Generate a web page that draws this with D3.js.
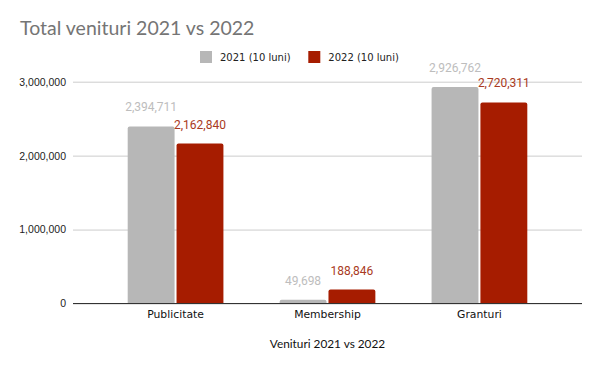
<!DOCTYPE html>
<html><head><meta charset="utf-8">
<script src="https://cdn.jsdelivr.net/npm/d3@7"></script>
<style>html,body{margin:0;padding:0;background:#fff;}</style>
</head><body>
<script>
const categories = ["Publicitate", "Membership", "Granturi"];
const seriesNames = ["2021 (10 luni)", "2022 (10 luni)"];
const values2021 = [2394711, 49698, 2926762];
const values2022 = [2162840, 188846, 2720311];
const yTicks = [0, 1000000, 2000000, 3000000];
const colors = ["#b7b7b7", "#a61c00"];
const labelColors = ["#bdbdbd", "#a93a22"];

(function () {
const W = 600, H = 371;
const pLeft = 73, pRight = 582, pTop = 81.7, pBottom = 303.5;
const svg = d3.select("body").append("svg").attr("width", W).attr("height", H);

const x0 = d3.scaleBand().domain(categories).range([pLeft, pRight]).paddingInner(0.37).paddingOuter(0.36);
const x1 = d3.scaleBand().domain([0, 1]).range([0, x0.bandwidth()]).paddingInner(0.04);
const y = d3.scaleLinear().domain([0, 3000000]).range([pBottom, pTop]);

// title
svg.append("text").attr("x", 20).attr("y", 35).text("Total venituri 2021 vs 2022")
  .attr("font-family", "Lato").attr("font-size", 19.5).attr("fill", "#757575");

// gridlines
const yAxis = d3.axisLeft(y).tickValues(yTicks).tickFormat(d3.format(",")).tickSize(-(pRight - pLeft)).tickPadding(7);
const ga = svg.append("g").attr("transform", `translate(${pLeft},0)`).call(yAxis);
ga.select(".domain").remove();
ga.selectAll(".tick line").attr("stroke", "#cccccc").attr("stroke-width", 1);
ga.selectAll(".tick text").attr("font-family", "Liberation Sans").attr("font-size", 10.5).attr("fill", "#222");

// bars
const series = [values2021, values2022];
function barPath(x, w, y0, y1, r) {
  const h = y1 - y0;
  r = Math.min(r, h, w / 2);
  return `M${x},${y1}V${y0 + r}Q${x},${y0} ${x + r},${y0}H${x + w - r}Q${x + w},${y0} ${x + w},${y0 + r}V${y1}Z`;
}
series.forEach((vals, si) => {
  svg.append("g").selectAll("path").data(categories).join("path")
    .attr("d", (c, i) => barPath(x0(c) + x1(si), x1.bandwidth(), y(vals[i]), y(0), 2))
    .attr("fill", colors[si]);
});

// baseline
svg.append("line").attr("x1", pLeft).attr("x2", pRight).attr("y1", y(0)).attr("y2", y(0))
  .attr("stroke", "#333").attr("stroke-width", 1);

// data labels
series.forEach((vals, si) => {
  svg.append("g").selectAll("text").data(categories).join("text")
    .attr("x", (c) => x0(c) + x1(si) + x1.bandwidth() / 2)
    .attr("y", (c, i) => y(vals[i]) - 15)
    .attr("text-anchor", "middle")
    .attr("font-family", "Roboto").attr("font-size", 12)
    .attr("fill", labelColors[si])
    .text((c, i) => d3.format(",")(vals[i]));
});

// category labels
svg.append("g").selectAll("text").data(categories).join("text")
  .attr("x", c => x0(c) + x0.bandwidth() / 2).attr("y", 318)
  .attr("text-anchor", "middle").attr("font-family", "DejaVu Sans").attr("font-size", 10.8)
  .attr("fill", "#111").text(c => c);

// axis title
svg.append("text").attr("x", (pLeft + pRight) / 2).attr("y", 347.5).attr("text-anchor", "middle")
  .attr("font-family", "Lato").attr("font-size", 11.8).attr("fill", "#111").text("Venituri 2021 vs 2022");

// legend
const legendX = [200, 308.3];
seriesNames.forEach((n, i) => {
  svg.append("rect").attr("x", legendX[i]).attr("y", 51).attr("width", 12).attr("height", 12).attr("fill", colors[i]);
  svg.append("text").attr("x", legendX[i] + 20).attr("y", 61).attr("font-family", "DejaVu Sans")
    .attr("font-size", 10).attr("fill", "#222").text(n);
});
})();
</script>
</body></html>
